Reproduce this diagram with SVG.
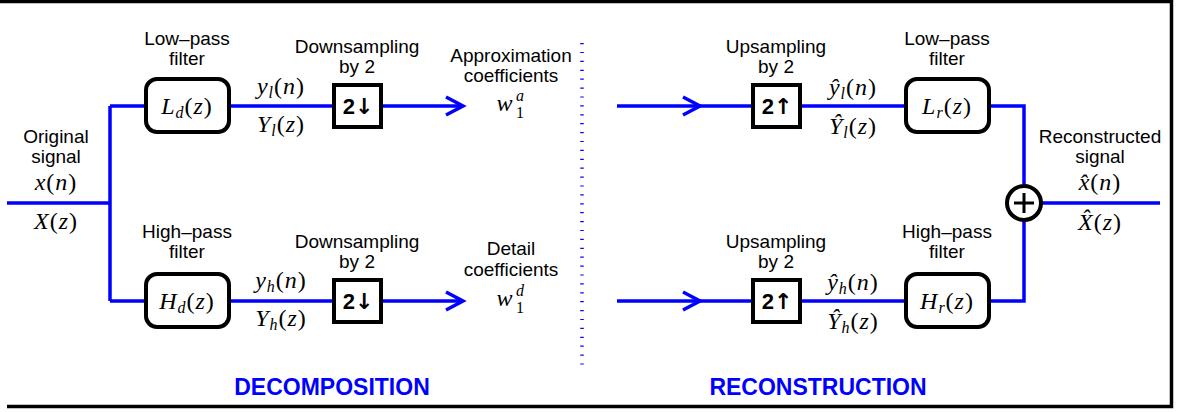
<svg xmlns="http://www.w3.org/2000/svg" width="1178" height="412" viewBox="0 0 1178 412">
<style>
.lbl{font-family:"Liberation Sans",Arial,sans-serif;font-size:19px;text-anchor:middle;fill:#000}
.m{font-family:"Liberation Serif","Times New Roman",serif;font-size:24px;letter-spacing:1px;text-anchor:middle;fill:#000}
.ms{font-family:"Liberation Serif","Times New Roman",serif;font-size:16px;fill:#000}
.i{font-style:italic}
.s{font-size:16px}
.wire{stroke:#0000ff;stroke-width:3.5;fill:none}
.arrow{stroke:#0000ff;stroke-width:3.5;fill:none;stroke-linejoin:miter}
.fbox{fill:#fff;stroke:#000;stroke-width:4}
.sbox{fill:#fff;stroke:#000;stroke-width:4}
.sym{font-family:"Liberation Sans",Arial,sans-serif;font-size:22px;font-weight:bold;text-anchor:middle;fill:#000}
.ar{font-family:"DejaVu Sans",sans-serif;font-weight:bold;font-size:22px}
.big{font-family:"Liberation Sans",Arial,sans-serif;font-size:23px;font-weight:bold;text-anchor:middle;fill:#0000ff}
</style>
<rect x="0" y="0" width="1178" height="412" fill="#fff"/>
<path d="M0,1.5 H1171.5 V406.5 H7" fill="none" stroke="#000" stroke-width="3.5"/>

<g id="connectors">
  <path class="wire" d="M7,203 H110 M110,106 V301 M110,106 H146 M110,301 H146"/>
  <path class="wire" d="M229,106 H334 M381,106 H463"/>
  <path class="wire" d="M229,301 H334 M381,301 H463"/>
  <path class="arrow" d="M446,97 L463,106 L446,115"/>
  <path class="arrow" d="M446,292 L463,301 L446,310"/>
  <line x1="582" y1="43" x2="582" y2="368" stroke="#0000ff" stroke-width="3.5" stroke-dasharray="1.2 7.7"/>
  <path class="wire" d="M617,106 H753 M800,106 H906"/>
  <path class="wire" d="M617,301 H753 M800,301 H906"/>
  <path class="arrow" d="M683,97 L700,106 L683,115"/>
  <path class="arrow" d="M683,292 L700,301 L683,310"/>
  <path class="wire" d="M989,106 H1024 V186 M989,301 H1024 V220 M1041,203 H1160"/>
</g>

<g id="input">
  <text class="lbl" x="56" y="143">Original</text>
  <text class="lbl" x="56" y="163">signal</text>
  <text class="m" x="56" y="190"><tspan class="i">x</tspan>(<tspan class="i">n</tspan>)</text>
  <text class="m" x="56" y="229"><tspan class="i">X</tspan>(<tspan class="i">z</tspan>)</text>
</g>

<g id="Ld">
  <text class="lbl" x="187" y="45">Low–pass</text>
  <text class="lbl" x="187" y="65">filter</text>
  <rect class="fbox" x="146" y="79" width="83" height="53" rx="11"/>
  <text class="m" x="187" y="114"><tspan class="i">L</tspan><tspan class="i s" dy="4">d</tspan><tspan dy="-4">(</tspan><tspan class="i">z</tspan>)</text>
</g>
<g id="Hd">
  <text class="lbl" x="187" y="238">High–pass</text>
  <text class="lbl" x="187" y="258">filter</text>
  <rect class="fbox" x="146" y="274" width="83" height="53" rx="11"/>
  <text class="m" x="187" y="309"><tspan class="i">H</tspan><tspan class="i s" dy="4">d</tspan><tspan dy="-4">(</tspan><tspan class="i">z</tspan>)</text>
</g>

<g id="yl">
  <text class="m" x="281" y="94"><tspan class="i">y</tspan><tspan class="i s" dy="4">l</tspan><tspan dy="-4">(</tspan><tspan class="i">n</tspan>)</text>
  <text class="m" x="281" y="132"><tspan class="i">Y</tspan><tspan class="i s" dy="4">l</tspan><tspan dy="-4">(</tspan><tspan class="i">z</tspan>)</text>
</g>
<g id="yh">
  <text class="m" x="281" y="288"><tspan class="i">y</tspan><tspan class="i s" dy="4">h</tspan><tspan dy="-4">(</tspan><tspan class="i">n</tspan>)</text>
  <text class="m" x="281" y="326"><tspan class="i">Y</tspan><tspan class="i s" dy="4">h</tspan><tspan dy="-4">(</tspan><tspan class="i">z</tspan>)</text>
</g>

<g id="down1">
  <text class="lbl" x="357" y="53">Downsampling</text>
  <text class="lbl" x="357" y="73">by 2</text>
  <rect class="sbox" x="334" y="85" width="47" height="42"/>
  <text class="sym" x="358" y="114">2<tspan class="ar">↓</tspan></text>
</g>
<g id="down2">
  <text class="lbl" x="357" y="248">Downsampling</text>
  <text class="lbl" x="357" y="268">by 2</text>
  <rect class="sbox" x="334" y="280" width="47" height="42"/>
  <text class="sym" x="358" y="309">2<tspan class="ar">↓</tspan></text>
</g>

<g id="approx">
  <text class="lbl" x="511" y="62">Approximation</text>
  <text class="lbl" x="511" y="82">coefficients</text>
  <text class="m i" x="505" y="111">w</text>
  <text class="ms i" x="516" y="101">a</text>
  <text class="ms" x="516" y="118">1</text>
</g>
<g id="detail">
  <text class="lbl" x="511" y="255">Detail</text>
  <text class="lbl" x="511" y="276">coefficients</text>
  <text class="m i" x="505" y="306">w</text>
  <text class="ms i" x="516" y="296">d</text>
  <text class="ms" x="516" y="313">1</text>
</g>

<g id="up1">
  <text class="lbl" x="776" y="53">Upsampling</text>
  <text class="lbl" x="776" y="73">by 2</text>
  <rect class="sbox" x="753" y="85" width="47" height="42"/>
  <text class="sym" x="777" y="114">2<tspan class="ar">↑</tspan></text>
</g>
<g id="up2">
  <text class="lbl" x="776" y="248">Upsampling</text>
  <text class="lbl" x="776" y="268">by 2</text>
  <rect class="sbox" x="753" y="280" width="47" height="42"/>
  <text class="sym" x="777" y="309">2<tspan class="ar">↑</tspan></text>
</g>

<g id="yhat">
  <text class="m" x="853" y="95"><tspan class="i">ŷ</tspan><tspan class="i s" dy="4">l</tspan><tspan dy="-4">(</tspan><tspan class="i">n</tspan>)</text>
  <text class="m" x="853" y="134"><tspan class="i">Ŷ</tspan><tspan class="i s" dy="4">l</tspan><tspan dy="-4">(</tspan><tspan class="i">z</tspan>)</text>
  <text class="m" x="853" y="290"><tspan class="i">ŷ</tspan><tspan class="i s" dy="4">h</tspan><tspan dy="-4">(</tspan><tspan class="i">n</tspan>)</text>
  <text class="m" x="853" y="329"><tspan class="i">Ŷ</tspan><tspan class="i s" dy="4">h</tspan><tspan dy="-4">(</tspan><tspan class="i">z</tspan>)</text>
</g>

<g id="Lr">
  <text class="lbl" x="947" y="45">Low–pass</text>
  <text class="lbl" x="947" y="65">filter</text>
  <rect class="fbox" x="906" y="79" width="83" height="53" rx="11"/>
  <text class="m" x="947" y="114"><tspan class="i">L</tspan><tspan class="i s" dy="4">r</tspan><tspan dy="-4">(</tspan><tspan class="i">z</tspan>)</text>
</g>
<g id="Hr">
  <text class="lbl" x="947" y="238">High–pass</text>
  <text class="lbl" x="947" y="258">filter</text>
  <rect class="fbox" x="906" y="274" width="83" height="53" rx="11"/>
  <text class="m" x="947" y="309"><tspan class="i">H</tspan><tspan class="i s" dy="4">r</tspan><tspan dy="-4">(</tspan><tspan class="i">z</tspan>)</text>
</g>

<g id="sum">
  <circle cx="1024" cy="203" r="17" fill="#fff" stroke="#000" stroke-width="4"/>
  <path d="M1014,203 H1034 M1024,193 V213" stroke="#000" stroke-width="3"/>
</g>

<g id="output">
  <text class="lbl" x="1100" y="143">Reconstructed</text>
  <text class="lbl" x="1100" y="163">signal</text>
  <text class="m" x="1100" y="190"><tspan class="i">x̂</tspan>(<tspan class="i">n</tspan>)</text>
  <text class="m" x="1100" y="230"><tspan class="i">X̂</tspan>(<tspan class="i">z</tspan>)</text>
</g>

<g id="titles">
  <text class="big" x="332" y="395">DECOMPOSITION</text>
  <text class="big" x="818" y="395">RECONSTRUCTION</text>
</g>
</svg>
